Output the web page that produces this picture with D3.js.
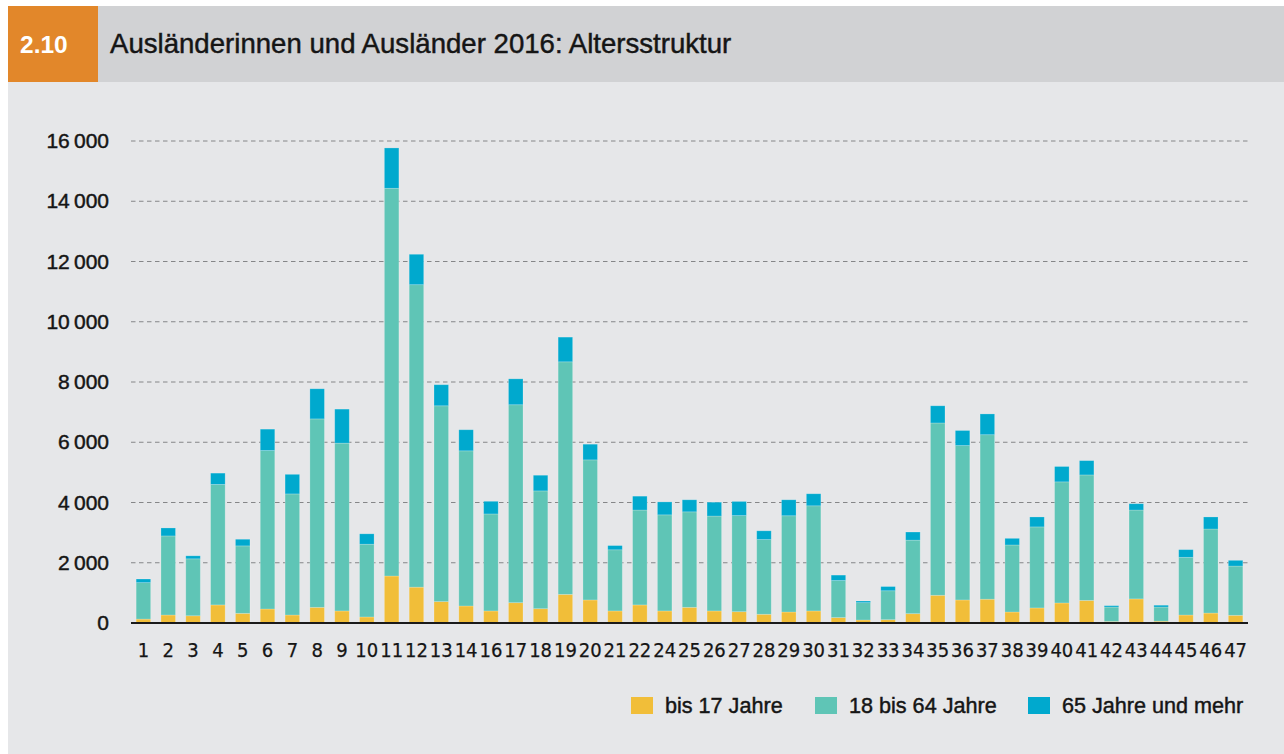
<!DOCTYPE html>
<html>
<head>
<meta charset="utf-8">
<script src="https://cdn.jsdelivr.net/npm/d3@7"></script>
<style>
  html, body { margin: 0; padding: 0; background: #fff; }
  svg { display: block; font-family: "Liberation Sans", Arial, sans-serif; }
  .heavy { stroke: #151515; stroke-width: 0.45px; }
  .light { stroke: #151515; stroke-width: 0.25px; }
</style>
</head>
<body>
<svg id="chart" width="1284" height="754"></svg>
<script>
// Ausländerinnen und Ausländer 2016 nach Altersgruppen (Stadtkreise)
var districts = ["1","2","3","4","5","6","7","8","9","10","11","12","13","14",
    "16","17","18","19","20","21","22","24","25","26","27","28","29","30","31",
    "32","33","34","35","36","37","38","39","40","41","42","43","44","45","46","47"];

var bis17 = [130,265,240,600,320,465,265,520,400,200,1560,1190,710,565,
    400,675,475,950,765,400,600,400,520,400,375,290,365,400,180,
    100,110,310,920,765,790,365,500,665,750,50,800,60,265,330,255];

var bis64 = [1210,2625,1890,4000,2240,5260,4020,6255,5570,2415,12870,10040,6500,5150,
    3220,6570,3910,7720,4650,2030,3150,3190,3170,3150,3190,2480,3195,3490,1230,
    575,960,2440,5720,5125,5460,2225,2690,4020,4165,480,2950,470,1915,2790,1635];

var ab65 = [120,265,100,375,220,710,650,1000,1130,345,1340,1010,700,700,
    420,860,520,820,520,140,460,430,400,460,470,290,530,400,180,
    55,140,270,570,500,690,220,330,510,475,45,210,60,255,400,190];

var groups = ["bis 17 Jahre", "18 bis 64 Jahre", "65 Jahre und mehr"];
var yTicks = [0, 2000, 4000, 6000, 8000, 10000, 12000, 14000, 16000];

var colors = d3.scaleOrdinal()
    .domain(groups)
    .range(["#f1be39", "#5fc5b6", "#00a9ce"]);

var svg = d3.select("#chart");

// background panels
svg.append("rect").attr("x", 8).attr("y", 6).attr("width", 1276).attr("height", 748)
    .attr("fill", "#e6e7e9");
svg.append("rect").attr("x", 8).attr("y", 6).attr("width", 1276).attr("height", 76)
    .attr("fill", "#d1d2d4");
svg.append("rect").attr("x", 8).attr("y", 6).attr("width", 90).attr("height", 76)
    .attr("fill", "#e2872a");

svg.append("text").attr("x", 20).attr("y", 53)
    .attr("fill", "#fff").attr("font-size", 24.5).attr("font-weight", "bold")
    .text("2.10");
svg.append("text").attr("x", 110).attr("y", 53)
    .attr("class", "heavy")
    .attr("fill", "#151515").attr("font-size", 27.6)
    .text("Ausländerinnen und Ausländer 2016: Altersstruktur");

// build stacked data
var rows = districts.map(function(d, i) {
    var r = { name: d };
    r[groups[0]] = bis17[i];
    r[groups[1]] = bis64[i];
    r[groups[2]] = ab65[i];
    return r;
});
var stacked = d3.stack().keys(groups)(rows);

var xScale = d3.scaleBand()
    .domain(districts)
    .range([131, 1248])
    .paddingInner(0.415)
    .paddingOuter(0.2075);

var yScale = d3.scaleLinear()
    .domain([0, 16000])
    .range([623, 141]);

// dashed gridlines
svg.append("g").selectAll("line")
    .data(yTicks.filter(function(t) { return t > 0; }))
    .join("line")
    .attr("x1", 131).attr("x2", 1248)
    .attr("y1", function(d) { return yScale(d); })
    .attr("y2", function(d) { return yScale(d); })
    .attr("stroke", "#858688")
    .attr("stroke-width", 1)
    .attr("stroke-dasharray", "4.5,3.5");

// bars
svg.append("g").selectAll("g")
    .data(stacked)
    .join("g")
    .attr("fill", function(s) { return colors(s.key); })
    .selectAll("rect")
    .data(function(s) { return s; })
    .join("rect")
    .attr("x", function(d) { return xScale(d.data.name); })
    .attr("y", function(d) { return yScale(d[1]); })
    .attr("width", xScale.bandwidth())
    .attr("height", function(d) { return yScale(d[0]) - yScale(d[1]); })
    .attr("stroke", "rgba(255,255,255,0.25)")
    .attr("stroke-width", 0.8);

// y axis
var yAxis = d3.axisLeft(yScale)
    .tickValues(yTicks)
    .tickSize(0)
    .tickPadding(22)
    .tickFormat(function(d) { return d3.format(",")(d).replace(",", "\u2009"); });
var gy = svg.append("g").attr("transform", "translate(131,0)").call(yAxis);
gy.select(".domain").remove();
gy.selectAll("text").attr("font-size", 21).attr("fill", "#151515")
    .attr("class", "heavy")
    .attr("font-family", "'Liberation Sans', Arial, sans-serif");

// x axis
var xAxis = d3.axisBottom(xScale).tickSize(0).tickPadding(20);
var gx = svg.append("g").attr("transform", "translate(0,623)").call(xAxis);
gx.select(".domain").remove();
gx.selectAll("text").attr("font-size", 20).attr("fill", "#151515")
    .attr("class", "light")
    .attr("font-family", "'Liberation Sans Narrow', 'DejaVu Sans Condensed', sans-serif");

// baseline
svg.append("line")
    .attr("x1", 131).attr("x2", 1248)
    .attr("y1", yScale(0)).attr("y2", yScale(0))
    .attr("stroke", "#1a1a1a").attr("stroke-width", 2);

// legend
var legendX = [631, 815, 1028];
var legend = svg.append("g").selectAll("g")
    .data(groups)
    .join("g")
    .attr("transform", function(d, i) { return "translate(" + legendX[i] + ",697)"; });
legend.append("rect").attr("width", 22).attr("height", 17)
    .attr("fill", function(d) { return colors(d); });
legend.append("text").attr("x", 34).attr("y", 15.5)
    .attr("class", "heavy")
    .attr("font-size", 21.6).attr("fill", "#151515")
    .text(function(d) { return d; });
</script>
</body>
</html>
